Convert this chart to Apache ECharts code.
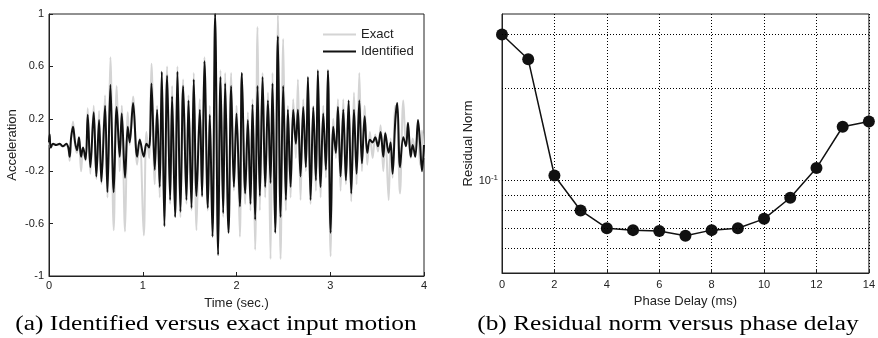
<!DOCTYPE html>
<html>
<head>
<meta charset="utf-8">
<script src="https://cdn.jsdelivr.net/npm/echarts@6/dist/echarts.min.js"></script>
<style>
  html, body { margin: 0; padding: 0; background: #fff; }
  #chart { width: 878px; height: 338px; }
</style>
</head>
<body>
<div id="chart"></div>
<script>
// (a) time series, peaks
const times = [0.000, 0.007, 0.018, 0.043, 0.078, 0.114, 0.149, 0.185, 0.206, 0.221, 0.235, 0.256, 0.278, 0.299, 0.320, 0.342, 0.363, 0.391, 0.413, 0.441,
  0.477, 0.505, 0.534, 0.559, 0.598, 0.623, 0.655, 0.690, 0.722, 0.754, 0.776, 0.811, 0.840, 0.861, 0.897, 0.940, 0.968, 1.011, 1.039, 1.068,
  1.093, 1.128, 1.153, 1.181, 1.203, 1.231, 1.260, 1.292, 1.313, 1.345, 1.370, 1.402, 1.431, 1.466, 1.488, 1.520, 1.544, 1.573, 1.609, 1.633,
  1.658, 1.694, 1.715, 1.744, 1.772, 1.804, 1.829, 1.858, 1.879, 1.915, 1.943, 1.972, 2.000, 2.036, 2.057, 2.093, 2.121, 2.149, 2.171, 2.199,
  2.224, 2.249, 2.278, 2.306, 2.335, 2.363, 2.384, 2.413, 2.441, 2.470, 2.498, 2.527, 2.548, 2.577, 2.605, 2.633, 2.655, 2.683, 2.712, 2.740,
  2.762, 2.790, 2.819, 2.847, 2.868, 2.897, 2.925, 2.954, 2.975, 3.004, 3.032, 3.060, 3.082, 3.110, 3.139, 3.167, 3.196, 3.224, 3.253, 3.281,
  3.310, 3.338, 3.367, 3.395, 3.423, 3.452, 3.480, 3.509, 3.537, 3.566, 3.587, 3.623, 3.644, 3.665, 3.694, 3.715, 3.744, 3.779, 3.808, 3.829,
  3.858, 3.879, 3.907, 3.936, 3.957, 3.979, 4.000];

const accIdentified = [0.02, 0.08, -0.02, 0.01, 0.00, 0.01, -0.01, 0.01, -0.02, -0.09, 0.05, 0.14, 0.02, -0.04, 0.06, -0.09, -0.02, -0.11, 0.23, -0.17,
  0.25, -0.24, 0.19, -0.28, 0.30, -0.36, 0.46, -0.36, 0.29, -0.09, 0.24, -0.25, 0.14, 0.02, 0.32, -0.09, 0.04, -0.09, 0.01, -0.02,
  0.47, -0.19, 0.27, -0.32, 0.56, -0.62, 0.53, -0.42, 0.37, -0.55, 0.56, -0.51, 0.45, -0.42, 0.34, -0.48, 0.50, -0.39, 0.27, -0.39,
  0.64, -0.48, 0.23, -0.70, 1.00, -0.84, 0.52, -0.52, 0.47, -0.67, 0.45, -0.32, 0.24, -0.47, 0.55, -0.37, 0.19, -0.45, 0.31, -0.57,
  0.45, -0.39, 0.52, -0.32, 0.34, -0.29, 0.47, -0.67, 0.83, -0.55, 0.45, -0.42, 0.27, -0.32, 0.27, 0.01, 0.27, -0.24, 0.29, -0.17,
  0.52, -0.42, 0.29, -0.27, 0.57, -0.32, 0.24, -0.19, 0.57, -0.67, 0.14, -0.06, 0.29, -0.24, 0.27, -0.27, 0.34, -0.37, 0.27, -0.22,
  0.34, -0.14, 0.22, -0.06, 0.04, 0.02, 0.06, -0.01, 0.10, -0.09, 0.09, -0.06, 0.02, -0.22, 0.19, 0.32, -0.17, 0.06, -0.01, 0.17,
  -0.09, 0.00, -0.09, 0.19, 0.02, -0.20, 0.00];

const accExact = [0.00, 0.03, -0.02, 0.00, 0.01, 0.00, -0.01, 0.00, -0.03, -0.12, 0.04, 0.18, 0.00, -0.06, 0.05, -0.20, -0.05, -0.12, 0.28, -0.22,
  0.30, -0.26, 0.26, -0.30, 0.38, -0.40, 0.67, -0.65, 0.45, -0.20, 0.30, -0.66, 0.25, 0.00, 0.37, -0.15, 0.05, -0.69, 0.10, -0.10,
  0.62, -0.30, 0.30, -0.40, 0.55, -0.55, 0.60, -0.45, 0.45, -0.50, 0.60, -0.55, 0.50, -0.45, 0.38, -0.50, 0.55, -0.65, 0.35, -0.40,
  0.67, -0.50, 0.30, -0.60, 0.70, -0.75, 0.57, -0.55, 0.55, -0.60, 0.55, -0.35, 0.30, -0.70, 0.55, -0.45, 0.25, -0.50, 0.35, -0.80,
  0.90, -0.50, 0.55, -0.40, 0.40, -0.87, 0.55, -0.60, 0.99, -0.87, 0.81, -0.50, 0.30, -0.40, 0.35, -0.10, 0.50, -0.42, 0.35, -0.20,
  0.50, -0.45, 0.30, -0.35, 0.40, -0.40, 0.30, -0.25, 0.55, -0.85, 0.20, -0.10, 0.35, -0.35, 0.35, -0.30, 0.30, -0.43, 0.40, -0.30,
  0.55, -0.20, 0.30, -0.15, 0.10, -0.10, 0.08, -0.05, 0.15, -0.20, 0.10, -0.42, 0.05, -0.25, 0.30, 0.20, -0.37, 0.34, 0.00, 0.12,
  -0.10, 0.05, -0.05, 0.15, -0.15, 0.11, -0.10];

const accTicks = [-1, -0.6, -0.2, 0.2, 0.6, 1];

// (b) residual norm against phase delay
const phaseDelay = [0, 1, 2, 3, 4, 5, 6, 7, 8, 9, 10, 11, 12, 13, 14];
const residualNorm = [0.300, 0.249, 0.104, 0.080, 0.070, 0.069, 0.0685, 0.0661, 0.069, 0.070, 0.0751, 0.088, 0.110, 0.150, 0.156];
const normGrid = [0.06, 0.07, 0.08, 0.09, 0.1, 0.2, 0.3];

const captions = ['(a) Identified versus exact input motion', '(b) Residual norm versus phase delay'];

const sans = 'Liberation Sans';

let myChart = echarts.init(document.getElementById('chart'));

const zip = (xs, ys) => xs.map((x, i) => [x, ys[i]]);

// caption text in the scan is a bit stretched sideways, so scale it
const caption = (text, cx) => ({
    type: 'text',
    x: cx, y: 315,
    scaleX: 1.27,
    style: {
        text: text, x: 0, y: 0,
        font: '20px "Liberation Serif"',
        fill: '#000',
        textAlign: 'center', textVerticalAlign: 'top'
    }
});

let option = {
    backgroundColor: '#fff',
    animation: false,
    textStyle: { fontFamily: sans },
    graphic: [caption(captions[0], 216), caption(captions[1], 668)],
    legend: {
        orient: 'vertical',
        left: 318, top: 23,
        icon: 'rect',
        itemWidth: 33, itemHeight: 2, itemGap: 4,
        textStyle: { fontSize: 13, color: '#222', fontFamily: sans },
        data: ['Exact', 'Identified']
    },
    grid: [
        { left: 49, right: 454, top: 14, bottom: 62, show: true, borderColor: '#222', borderWidth: 1, backgroundColor: 'transparent' },
        { left: 502, right: 6, top: 14, bottom: 65, show: true, borderColor: '#222', borderWidth: 1, backgroundColor: 'transparent' }
    ],
    xAxis: [
        {
            gridIndex: 0, type: 'value', min: 0, max: 4, interval: 1,
            name: 'Time (sec.)', nameLocation: 'middle', nameGap: 21,
            nameTextStyle: { fontSize: 13, color: '#222' },
            axisLine: { onZero: false, lineStyle: { color: '#222' } },
            axisTick: { inside: true, length: 4, lineStyle: { color: '#222' } },
            axisLabel: { fontSize: 11, color: '#222', margin: 4 },
            splitLine: { show: false }
        },
        {
            gridIndex: 1, type: 'value', min: 0, max: 14, interval: 2,
            name: 'Phase Delay (ms)', nameLocation: 'middle', nameGap: 22,
            nameTextStyle: { fontSize: 13, color: '#222' },
            axisLine: { onZero: false, lineStyle: { color: '#222' } },
            axisTick: { inside: true, length: 4, lineStyle: { color: '#222' } },
            axisLabel: { fontSize: 11, color: '#222', margin: 6 },
            splitLine: { show: true, lineStyle: { color: '#000', type: [1, 2], width: 1 } }
        }
    ],
    yAxis: [
        {
            gridIndex: 0, type: 'value', min: -1, max: 1,
            name: 'Acceleration', nameLocation: 'middle', nameGap: 30, nameRotate: 90,
            nameTextStyle: { fontSize: 13, color: '#222' },
            axisLine: { onZero: false, lineStyle: { color: '#222' } },
            axisTick: { inside: true, length: 4, customValues: accTicks, lineStyle: { color: '#222' } },
            axisLabel: { fontSize: 11, color: '#222', margin: 5, customValues: accTicks },
            splitLine: { show: false }
        },
        {
            gridIndex: 1, type: 'log', logBase: 10, min: 0.05, max: 0.35,
            name: 'Residual Norm', nameLocation: 'middle', nameGap: 27, nameRotate: 90,
            nameTextStyle: { fontSize: 13, color: '#222' },
            axisLine: { onZero: false, lineStyle: { color: '#222' } },
            axisTick: { show: false },
            axisLabel: { show: false },
            splitLine: { show: false }
        }
    ],
    series: [
        {
            name: 'Exact', type: 'line', xAxisIndex: 0, yAxisIndex: 0,
            data: zip(times, accExact),
            symbol: 'none', smooth: 0.35,
            lineStyle: { color: '#d4d4d4', width: 2 },
            itemStyle: { color: '#d4d4d4' },
            z: 2
        },
        {
            name: 'Identified', type: 'line', xAxisIndex: 0, yAxisIndex: 0,
            data: zip(times, accIdentified),
            symbol: 'none', smooth: 0.35,
            lineStyle: { color: '#111', width: 2 },
            itemStyle: { color: '#111' },
            z: 3
        },
        {
            name: 'Residual', type: 'line', xAxisIndex: 1, yAxisIndex: 1,
            data: zip(phaseDelay, residualNorm),
            symbol: 'circle', symbolSize: 12,
            lineStyle: { color: '#111', width: 1.5 },
            itemStyle: { color: '#111' },
            z: 3,
            markLine: {
                silent: true,
                symbol: 'none',
                lineStyle: { color: '#000', type: [1, 2], width: 1 },
                label: { show: false },
                data: normGrid.map(v => ({
                    yAxis: v,
                    label: v === 0.1 ? {
                        show: true, position: 'start', distance: 4,
                        formatter: '10{s|-1}', fontSize: 11, color: '#222',
                        rich: { s: { fontSize: 8, verticalAlign: 'top', padding: [0, 0, 6, 0], color: '#222' } }
                    } : { show: false }
                }))
            }
        }
    ]
};
option && myChart.setOption(option);
</script>
</body>
</html>
